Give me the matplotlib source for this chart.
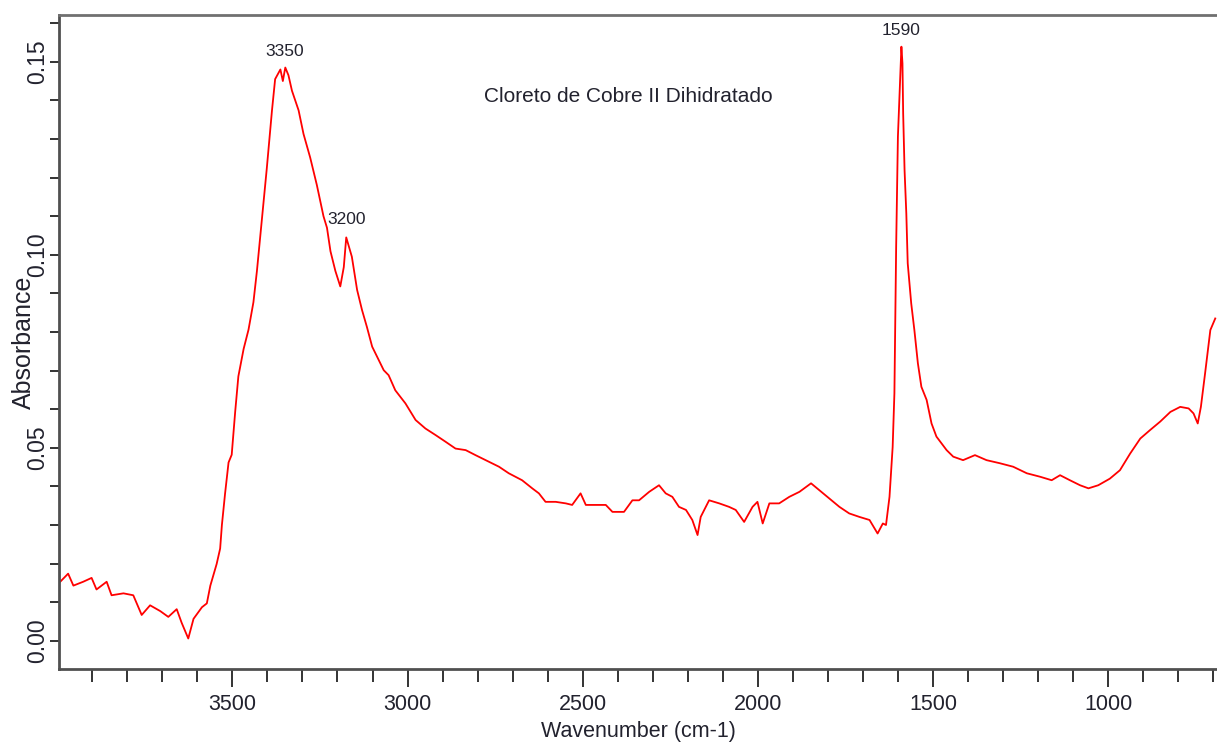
import matplotlib
matplotlib.use('Agg')
import matplotlib.pyplot as plt
from matplotlib import font_manager
from matplotlib.ticker import MultipleLocator

# FTIR spectrum of copper(II) chloride dihydrate

wavenumber = [
    3997, 3969, 3954, 3926, 3902, 3888, 3859, 3845, 3811, 3783,
    3759, 3735, 3706, 3683, 3659, 3645, 3626, 3611, 3587, 3573,
    3563, 3545, 3535, 3530, 3521, 3511, 3502, 3492, 3483, 3468,
    3454, 3440, 3430, 3416, 3402, 3387, 3378, 3363, 3356, 3349,
    3340, 3330, 3311, 3297, 3278, 3259, 3240, 3230, 3220, 3206,
    3192, 3182, 3175, 3159, 3144, 3130, 3116, 3101, 3082, 3068,
    3054, 3035, 3006, 2977, 2949, 2920, 2892, 2863, 2834, 2806,
    2777, 2739, 2711, 2673, 2644, 2625, 2606, 2577, 2548, 2530,
    2506, 2491, 2463, 2434, 2415, 2382, 2358, 2339, 2310, 2282,
    2263, 2244, 2225, 2205, 2187, 2172, 2163, 2139, 2110, 2082,
    2063, 2039, 2015, 2001, 1986, 1967, 1939, 1910, 1881, 1848,
    1824, 1796, 1767, 1739, 1710, 1681, 1658, 1643, 1634, 1624,
    1615, 1610, 1605, 1600, 1590, 1587, 1585, 1581, 1576, 1572,
    1562, 1553, 1543, 1533, 1518, 1504, 1490, 1476, 1461, 1442,
    1414, 1380, 1347, 1309, 1271, 1232, 1194, 1161, 1137, 1109,
    1080, 1056, 1028, 995, 966, 937, 908, 880, 851, 822,
    794, 770, 756, 744, 735, 723, 708, 694,
]
absorbance = [
    0.0148, 0.0174, 0.0143, 0.0153, 0.0163, 0.0133, 0.0153, 0.0118, 0.0123, 0.0118,
    0.0067, 0.0092, 0.0077, 0.0062, 0.0082, 0.0047, 0.0006, 0.0057, 0.0087, 0.0097,
    0.0143, 0.0199, 0.0239, 0.0300, 0.0381, 0.0462, 0.0482, 0.0594, 0.0685, 0.0756,
    0.0806, 0.0877, 0.0958, 0.1090, 0.1222, 0.1374, 0.1455, 0.1480, 0.1450, 0.1485,
    0.1465, 0.1425, 0.1374, 0.1313, 0.1252, 0.1181, 0.1100, 0.1070, 0.1009, 0.0958,
    0.0918, 0.0968, 0.1045, 0.0995, 0.0909, 0.0857, 0.0813, 0.0762, 0.0727, 0.0701,
    0.0688, 0.0649, 0.0615, 0.0572, 0.0550, 0.0533, 0.0516, 0.0498, 0.0494, 0.0481,
    0.0468, 0.0451, 0.0434, 0.0416, 0.0395, 0.0382, 0.0360, 0.0360, 0.0356, 0.0352,
    0.0382, 0.0352, 0.0352, 0.0352, 0.0334, 0.0334, 0.0364, 0.0364, 0.0386, 0.0403,
    0.0382, 0.0373, 0.0347, 0.0339, 0.0313, 0.0274, 0.0321, 0.0364, 0.0356, 0.0347,
    0.0339, 0.0308, 0.0347, 0.0360, 0.0304, 0.0356, 0.0356, 0.0373, 0.0386, 0.0408,
    0.0390, 0.0369, 0.0347, 0.0330, 0.0321, 0.0313, 0.0278, 0.0304, 0.0300, 0.0373,
    0.0502, 0.0641, 0.1021, 0.1306, 0.1539, 0.1496, 0.1366, 0.1219, 0.1107, 0.0978,
    0.0874, 0.0805, 0.0719, 0.0658, 0.0624, 0.0563, 0.0529, 0.0512, 0.0494, 0.0477,
    0.0468, 0.0481, 0.0468, 0.0460, 0.0451, 0.0434, 0.0425, 0.0416, 0.0429, 0.0416,
    0.0403, 0.0395, 0.0403, 0.0420, 0.0442, 0.0485, 0.0524, 0.0546, 0.0568, 0.0593,
    0.0606, 0.0602, 0.0589, 0.0563, 0.0606, 0.0693, 0.0805, 0.0835,
]

# labelled bands: (text, wavenumber, height of text base)
peak_text = ['3350', '3200', '1590']
peak_pos = [3350, 3175, 1590]
peak_text_y = [0.1507, 0.1072, 0.1561]

sample_name = 'Cloreto de Cobre II Dihidratado'

installed = {f.name for f in font_manager.fontManager.ttflist}
narrow = 'Liberation Sans Narrow' if 'Liberation Sans Narrow' in installed else 'Liberation Sans'
regular = 'Liberation Sans'
ink = '#22222e'
axis_grey = '#505050'

fig = plt.figure(figsize=(12.17, 7.44), dpi=100)
ax = fig.add_axes([0.0485, 0.1008, 0.9515, 0.879])

ax.plot(wavenumber, absorbance, color='#ff0000', lw=1.3)

ax.set_xlim(3995, 689)
ax.set_ylim(-0.0073, 0.1621)

ax.xaxis.set_major_locator(MultipleLocator(500))
ax.xaxis.set_minor_locator(MultipleLocator(100))
ax.yaxis.set_major_locator(MultipleLocator(0.05))
ax.yaxis.set_minor_locator(MultipleLocator(0.01))

for side in ['left', 'bottom', 'top']:
    ax.spines[side].set_color(axis_grey)
    ax.spines[side].set_linewidth(2)
ax.spines['top'].set_color('#707070')
ax.spines['right'].set_visible(False)

ax.tick_params(axis='x', which='major', length=13, width=1.4, color='#333333', pad=5)
ax.tick_params(axis='x', which='minor', length=9.5, width=1.4, color='#333333')
ax.tick_params(axis='y', which='both', length=6.8, width=1.4, color='#333333', pad=0.5)

for lbl in ax.get_xticklabels():
    lbl.set_fontfamily(narrow)
    lbl.set_fontsize(15.5)
    lbl.set_color(ink)
ax.set_yticks([0.0, 0.05, 0.10, 0.15])
ax.set_yticklabels(['0.00', '0.05', '0.10', '0.15'], rotation=90, va='center',
                   fontfamily=regular, fontsize=16.5, color=ink)

ax.set_xlabel('Wavenumber (cm-1)', fontfamily=narrow, fontsize=15.5, color=ink, labelpad=4)
ax.set_ylabel('Absorbance', fontfamily=regular, fontsize=18, color=ink)
ax.yaxis.set_label_coords(-0.020, 0.5)

ax.text(2370, 0.1411, sample_name, ha='center', va='center',
        fontfamily=narrow, fontsize=15, color=ink)

for txt, x, y in zip(peak_text, peak_pos, peak_text_y):
    ax.text(x, y, txt, ha='center', va='bottom', fontfamily=narrow, fontsize=12.5, color=ink)

fig.savefig('out.png', dpi=100)
